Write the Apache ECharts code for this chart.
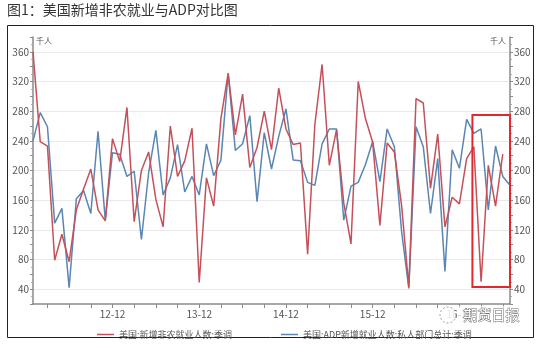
<!DOCTYPE html>
<html><head><meta charset="utf-8">
<script src="https://cdn.jsdelivr.net/npm/echarts@6.0.0/dist/echarts.min.js"></script>
<style>html,body{margin:0;padding:0;background:#fff;}#c{width:550px;height:357px;}</style>
</head><body><div id="c"></div>
<script>
// Months Jan 2012 .. Jul 2017, labelled "YY-MM"
const categories = [];
for (let y = 12; y <= 17; y++) {
  for (let m = 1; m <= 12; m++) {
    if (y === 17 && m > 7) break;
    categories.push(y + '-' + (m < 10 ? '0' + m : '' + m));
  }
}
// 美国:新增非农就业人数:季调 (千人)
const nfp = [360,239,233,79,114,77,147,175,202,147,132,243,
             212,285,131,200,225,161,124,260,192,213,257,49,
             190,152,270,331,248,303,204,231,280,228,311,256,
             235,237,87,262,343,207,255,156,101,320,270,238,
             126,237,225,153,43,297,291,176,249,124,164,155,
             216,232,50,207,152,222];
// 美国:ADP新增就业人数:私人部门总计:季调 (千人)
const adp = [240,278,259,129,149,42,162,173,142,253,133,224,
             222,192,199,107,197,254,167,190,235,171,192,167,
             236,193,214,331,227,236,274,158,251,202,246,283,
             214,213,184,180,236,256,256,133,179,184,208,239,
             185,256,232,118,41,259,232,142,216,64,228,203,
             269,250,256,147,233,192,180];
const yTicks = [40,80,120,160,200,240,280,320,360];
const seriesNames = ['美国:新增非农就业人数:季调', '美国:ADP新增就业人数:私人部门总计:季调'];
const titleText = '图1：美国新增非农就业与ADP对比图';
const unitName = '千人';
const watermarkText = '期货日报';
// highlighted box: category index range and value range
const highlightX = [60.8, 66];
const highlightY = [43, 275];

const FONT = '"Noto Sans CJK SC", "Microsoft YaHei", sans-serif';
const axisColor = '#8a8a8a';
const labelColor = '#555';

function yAxisCfg(pos) {
  return {
    type: 'value', position: pos, min: 20, max: 380, interval: 20,
    axisLine: {show: true, lineStyle: {color: axisColor, width: 1.5}},
    axisTick: {show: true, length: 3, lineStyle: {color: axisColor}},
    minorTick: {show: true, splitNumber: 2, length: 2, lineStyle: {color: '#aaa'}},
    axisLabel: {formatter: v => yTicks.indexOf(v) >= 0 ? String(v) : '',
      color: labelColor, fontSize: 10, margin: 4, fontFamily: FONT},
    splitLine: {show: pos === 'left', lineStyle: {color: ['rgba(0,0,0,0)', '#e9e9e9'], width: 1}},
    name: unitName, nameLocation: 'end', nameGap: -4,
    nameTextStyle: {fontSize: 8, color: labelColor, fontFamily: FONT,
      align: pos === 'left' ? 'left' : 'right', verticalAlign: 'middle',
      padding: pos === 'left' ? [0, 0, 0, 3] : [0, 4, 0, 0]}
  };
}

const chart = echarts.init(document.getElementById('c'), null, {renderer: 'canvas'});
const option = {
  animation: false,
  backgroundColor: '#fff',
  textStyle: {fontFamily: FONT},
  grid: {left: 33, right: 40, top: 37, bottom: 53, containLabel: false},
  xAxis: {
    type: 'category', data: categories, boundaryGap: false,
    axisLine: {lineStyle: {color: axisColor, width: 1.5}},
    axisTick: {show: true, interval: (i) => i % 3 === 2, length: 4, lineStyle: {color: axisColor}},
    axisLabel: {interval: (i) => i % 12 === 11, color: labelColor, fontSize: 10, margin: 5, fontFamily: FONT},
    splitLine: {show: false}
  },
  yAxis: [yAxisCfg('left'), yAxisCfg('right')],
  legend: [
    {data: [seriesNames[0]], left: 92, top: 325, icon: 'rect', itemWidth: 17, itemHeight: 1.5,
     textStyle: {fontSize: 9, color: labelColor, fontFamily: FONT}},
    {data: [seriesNames[1]], left: 276, top: 325, icon: 'rect', itemWidth: 17, itemHeight: 1.5,
     textStyle: {fontSize: 9, color: labelColor, fontFamily: FONT}}
  ],
  series: [
    {name: seriesNames[0], type: 'line', data: nfp, yAxisIndex: 0, symbol: 'none',
     lineStyle: {color: '#c4505a', width: 1.5}, itemStyle: {color: '#c4505a'}, z: 3},
    {name: seriesNames[1], type: 'line', data: adp, yAxisIndex: 0, symbol: 'none',
     lineStyle: {color: '#5a86b3', width: 1.5}, itemStyle: {color: '#5a86b3'}, z: 2}
  ],
  graphic: [
    {id: 'title', type: 'text', left: 7, top: 3, silent: true,
     style: {text: titleText, fontSize: 14, fill: '#333', fontFamily: FONT}},
    {id: 'frame', type: 'rect', silent: true, z: -1,
     shape: {x: 7.5, y: 25.5, width: 526, height: 312},
     style: {fill: 'none', stroke: '#222', lineWidth: 1}}
  ]
};
chart.setOption(option);

// highlight box and watermark positioned through the chart's own axes
const a = chart.convertToPixel({gridIndex: 0}, [Math.floor(highlightX[0]), highlightY[1]]);
const b = chart.convertToPixel({gridIndex: 0}, [Math.floor(highlightX[0]) + 1, highlightY[0]]);
const c = chart.convertToPixel({gridIndex: 0}, [highlightX[1], highlightY[0]]);
const x0 = a[0] + (highlightX[0] - Math.floor(highlightX[0])) * (b[0] - a[0]);
chart.setOption({
  graphic: [
    {id: 'hl', type: 'rect', silent: true, z: 10,
     shape: {x: x0, y: a[1], width: c[0] - x0, height: b[1] - a[1]},
     style: {fill: 'none', stroke: '#e0282e', lineWidth: 2}},
    {id: 'wmc', type: 'circle', silent: true, z: 20,
     shape: {cx: 448, cy: 315, r: 8},
     style: {fill: 'rgba(255,255,255,0.85)', stroke: '#999', lineWidth: 1, lineDash: [2, 2]}},
    {id: 'wmbg', type: 'rect', silent: true, z: 19,
     shape: {x: 457, y: 306, width: 62, height: 19},
     style: {fill: 'rgba(255,255,255,0.6)'}},
    {id: 'wm', type: 'text', silent: true, z: 21, left: 463, top: 307,
     style: {text: watermarkText, fontSize: 14, fill: '#fff', stroke: '#666', lineWidth: 0.9, fontFamily: FONT}}
  ]
});
</script>
</body></html>
